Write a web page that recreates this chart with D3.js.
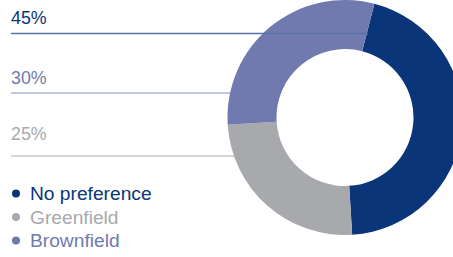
<!DOCTYPE html>
<html><head><meta charset="utf-8">
<script src="https://cdn.jsdelivr.net/npm/d3@7"></script>
<style>body{margin:0;background:#fff}svg{display:block}text{font-family:"Liberation Sans",Arial,sans-serif}</style>
</head><body>
<script>
const categories = ["No preference", "Greenfield", "Brownfield"];
const values = [45, 25, 30];
const colors = ["#0a3578", "#a8a9ad", "#717aaf"];
const labelOrder = ["No preference", "Brownfield", "Greenfield"];
const labelTexts = ["45%", "30%", "25%"];
const lineColors = ["#5573a8", "#aeb2d3", "#c9c9cb"];

const W = 453, H = 257;
const svg = d3.select("body").append("svg").attr("width", W).attr("height", H);

const cx = 345, cy = 117.5, rOuter = 117.5, rInner = 68.5;
const start = 0.253;

const lineYs = {"No preference": 33.5, "Brownfield": 93, "Greenfield": 156};
const textYs = {"No preference": 24.3, "Brownfield": 84, "Greenfield": 140};
const colorOf = d3.scaleOrdinal().domain(categories).range(colors);

labelOrder.forEach((c, i) => {
  if (i > 0) {
    svg.append("line").attr("x1", 11).attr("x2", 250)
      .attr("y1", lineYs[c]).attr("y2", lineYs[c])
      .attr("stroke", lineColors[i]).attr("stroke-width", 1.5);
  }
  svg.append("text").attr("x", 11).attr("y", textYs[c])
    .attr("font-size", 17.8).attr("fill", colorOf(c)).text(labelTexts[i]);
});

const pie = d3.pie().sort(null).startAngle(start).endAngle(start + 2 * Math.PI);
const arc = d3.arc().innerRadius(rInner).outerRadius(rOuter);
svg.append("g").attr("transform", `translate(${cx},${cy})`)
  .selectAll("path").data(pie(values)).join("path")
  .attr("d", arc).attr("fill", (d, i) => colors[i]);

// top line over donut
svg.append("line").attr("x1", 11).attr("x2", 368)
  .attr("y1", lineYs["No preference"]).attr("y2", lineYs["No preference"])
  .attr("stroke", lineColors[0]).attr("stroke-width", 1.5);

// legend
const legY = d3.scalePoint().domain(categories).range([200, 247]);
const leg = svg.append("g");
categories.forEach(c => {
  leg.append("circle").attr("cx", 16).attr("cy", legY(c) - 6.5).attr("r", 4).attr("fill", colorOf(c));
  leg.append("text").attr("x", 30).attr("y", legY(c)).attr("font-size", 19.2)
    .attr("fill", colorOf(c)).text(c);
});
</script>
</body></html>
